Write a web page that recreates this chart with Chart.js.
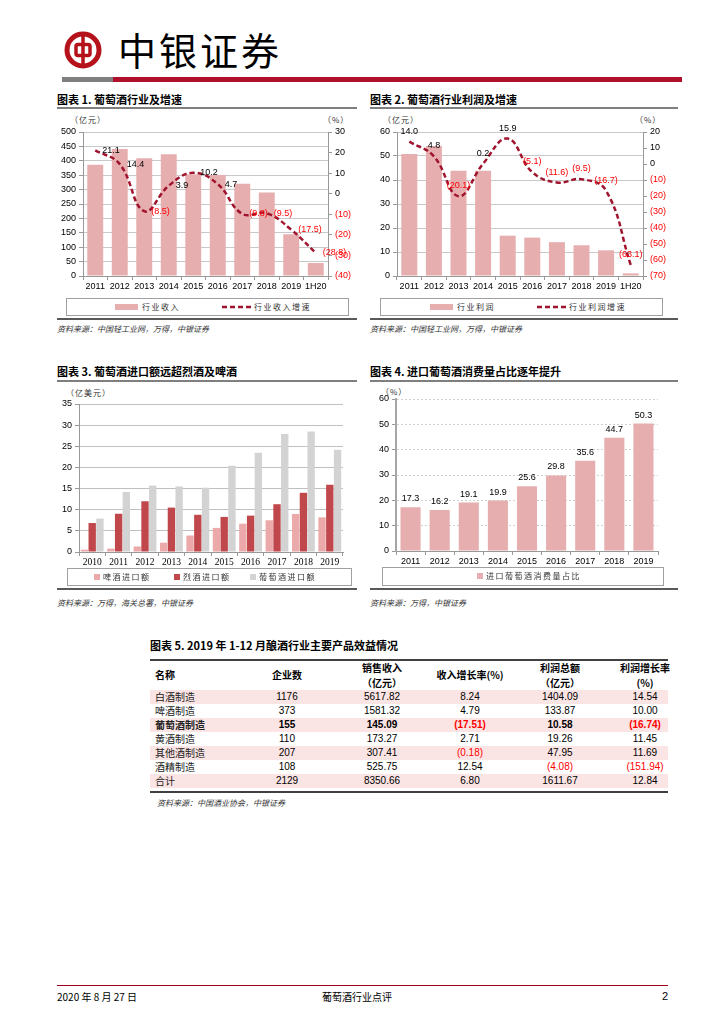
<!DOCTYPE html>
<html lang="zh-CN">
<head>
<meta charset="utf-8">
<script src="https://cdn.jsdelivr.net/npm/chart.js@4.4.0/dist/chart.umd.min.js"></script>
<style>
  body { margin: 0; width: 724px; height: 1024px; position: relative; overflow: hidden; background: #fff;
         font-family: "Liberation Sans", Arial, sans-serif; color: #000; }
  .abs { position: absolute; }
  .title { font-family: "Noto Sans CJK SC"; font-weight: 700; font-size: 11px; line-height: 16px; white-space: nowrap; }
  .rule { background: #7f7f7f; height: 2px; }
  .sep { background: #595959; height: 1.5px; }
  .src { font-family: "Noto Sans CJK SC"; font-style: italic; font-size: 8px; line-height: 12px; color: #333; white-space: nowrap; }
  .unit { font-family: "Noto Sans CJK SC"; font-size: 8px; line-height: 10px; color: #333; letter-spacing: 1px; white-space: nowrap; }
  .lgbox { border: 1px solid #a0a0a0; box-sizing: border-box; }
  .lgtxt { font-family: "Noto Sans CJK SC"; font-size: 8px; line-height: 10px; color: #333; letter-spacing: 1.5px; white-space: nowrap; }
  .cell { font-size: 10px; line-height: 14px; white-space: nowrap; }
  .cn { font-family: "Noto Sans CJK SC"; }
  .hd { font-family: "Noto Sans CJK SC"; font-weight: 700; font-size: 10px; line-height: 14px; white-space: nowrap; }
  canvas { position: absolute; }
</style>
</head>
<body>

<!-- header -->
<svg class="abs" style="left:64px;top:31px" width="38" height="38" viewBox="0 0 38 38">
  <circle cx="19" cy="19" r="16" fill="none" stroke="#B5121B" stroke-width="5"/>
  <rect x="12" y="13.5" width="14" height="11" rx="2" fill="none" stroke="#B5121B" stroke-width="3.5"/>
  <line x1="19" y1="3" x2="19" y2="35" stroke="#B5121B" stroke-width="3.5"/>
</svg>
<div class="abs cn" style="left:118px;top:26px;font-size:38px;line-height:46px;letter-spacing:3px;">中银证券</div>
<div class="abs" style="left:62px;top:77px;width:51px;height:5px;background:#7f7f7f"></div>
<div class="abs" style="left:113px;top:77px;width:569px;height:5px;background:#B0102B"></div>

<!-- chart titles -->
<div class="abs title" style="left:57px;top:91px">图表 1. 葡萄酒行业及增速</div>
<div class="abs rule" style="left:57px;top:107px;width:300px"></div>
<div class="abs title" style="left:370px;top:91px">图表 2. 葡萄酒行业利润及增速</div>
<div class="abs rule" style="left:370px;top:107px;width:308px"></div>
<div class="abs title" style="left:57px;top:363px">图表 3. 葡萄酒进口额远超烈酒及啤酒</div>
<div class="abs rule" style="left:57px;top:380px;width:300px"></div>
<div class="abs title" style="left:370px;top:363px">图表 4. 进口葡萄酒消费量占比逐年提升</div>
<div class="abs rule" style="left:370px;top:380px;width:308px"></div>

<!-- units -->
<div class="abs unit" style="left:70px;top:115px">（亿元）</div>
<div class="abs unit" style="left:323px;top:115px">（%）</div>
<div class="abs unit" style="left:383px;top:115px">（亿元）</div>
<div class="abs unit" style="left:635px;top:115px">（%）</div>
<div class="abs unit" style="left:66px;top:388px">（亿美元）</div>
<div class="abs unit" style="left:381px;top:387px">（%）</div>

<canvas id="c1" width="300" height="180" style="left:57px;top:112px"></canvas>
<canvas id="c2" width="310" height="180" style="left:368px;top:112px"></canvas>
<canvas id="c3" width="300" height="183" style="left:57px;top:385px"></canvas>
<canvas id="c4" width="305" height="182" style="left:368px;top:385px"></canvas>

<!-- legends chart 1 -->
<div class="abs lgbox" style="left:66px;top:298px;width:283px;height:18px"></div>
<div class="abs" style="left:115px;top:304px;width:23px;height:6px;background:#E6AEAE"></div>
<div class="abs lgtxt" style="left:142px;top:302px">行业收入</div>
<svg class="abs" style="left:222px;top:304px" width="30" height="6"><line x1="0" y1="3" x2="30" y2="3" stroke="#A0142D" stroke-width="2.5" stroke-dasharray="5,3"/></svg>
<div class="abs lgtxt" style="left:254px;top:302px">行业收入增速</div>

<!-- legends chart 2 -->
<div class="abs lgbox" style="left:380px;top:298px;width:283px;height:18px"></div>
<div class="abs" style="left:430px;top:304px;width:23px;height:6px;background:#E6AEAE"></div>
<div class="abs lgtxt" style="left:457px;top:302px">行业利润</div>
<svg class="abs" style="left:537px;top:304px" width="30" height="6"><line x1="0" y1="3" x2="30" y2="3" stroke="#A0142D" stroke-width="2.5" stroke-dasharray="5,3"/></svg>
<div class="abs lgtxt" style="left:569px;top:302px">行业利润增速</div>

<!-- legends chart 3 -->
<div class="abs lgbox" style="left:67px;top:568px;width:285px;height:18px"></div>
<div class="abs" style="left:94px;top:574px;width:6px;height:6px;background:#EBA9A9"></div>
<div class="abs lgtxt" style="left:103px;top:572px">啤酒进口额</div>
<div class="abs" style="left:174px;top:574px;width:6px;height:6px;background:#C0474B"></div>
<div class="abs lgtxt" style="left:183px;top:572px">烈酒进口额</div>
<div class="abs" style="left:250px;top:574px;width:6px;height:6px;background:#D3D3D3"></div>
<div class="abs lgtxt" style="left:259px;top:572px">葡萄酒进口额</div>

<!-- legend chart 4 -->
<div class="abs lgbox" style="left:382px;top:567px;width:282px;height:19px"></div>
<div class="abs" style="left:477px;top:573px;width:6px;height:6px;background:#E6AEAE"></div>
<div class="abs lgtxt" style="left:486px;top:571px">进口葡萄酒消费量占比</div>

<!-- separators and sources -->
<div class="abs sep" style="left:57px;top:318px;width:300px"></div>
<div class="abs sep" style="left:370px;top:318px;width:308px"></div>
<div class="abs src" style="left:57px;top:323px">资料来源：中国轻工业网，万得，中银证券</div>
<div class="abs src" style="left:370px;top:323px">资料来源：中国轻工业网，万得，中银证券</div>
<div class="abs sep" style="left:57px;top:588px;width:300px"></div>
<div class="abs sep" style="left:370px;top:588px;width:308px"></div>
<div class="abs src" style="left:57px;top:597px">资料来源：万得，海关总署，中银证券</div>
<div class="abs src" style="left:370px;top:597px">资料来源：万得，中银证券</div>

<!-- table -->
<div class="abs title" style="left:150px;top:637px">图表 5. 2019 年 1-12 月酿酒行业主要产品效益情况</div>
<div class="abs" style="left:150px;top:659px;width:518px;height:1.5px;background:#404040"></div>
<div id="table"></div>
<div class="abs" style="left:150px;top:791px;width:518px;height:1.5px;background:#404040"></div>
<div class="abs src" style="left:157px;top:797px">资料来源：中国酒业协会，中银证券</div>

<!-- footer -->
<div class="abs" style="left:57px;top:985px;width:611px;height:1px;background:#A0001E"></div>
<div class="abs cn" style="left:57px;top:990px;font-size:10px;line-height:14px">2020 年 8 月 27 日</div>
<div class="abs cn" style="left:257px;top:990px;width:200px;text-align:center;font-size:10px;line-height:14px">葡萄酒行业点评</div>
<div class="abs" style="left:640px;top:989px;width:28px;text-align:right;font-size:11px;line-height:14px">2</div>

<script>
// ---- data ----
const years1 = ['2011', '2012', '2013', '2014', '2015', '2016', '2017', '2018', '2019', '1H20'];
const revenue = [386, 441, 409, 423, 353, 351, 320, 290, 145, 45];
const revenueGrowth = [21.1, 14.4, -8.5, 3.9, 10.2, 4.7, -9.8, -9.5, -17.5, -28.8];
const profit = [50.8, 54.2, 43.9, 43.9, 16.8, 16.0, 14.1, 12.8, 10.7, 1.1];
const profitGrowth = [14.0, 4.8, -20.1, 0.2, 15.9, -5.1, -11.6, -9.5, -16.7, -63.1];

const years3 = ['2010', '2011', '2012', '2013', '2014', '2015', '2016', '2017', '2018', '2019'];
const beerImport = [0.55, 0.8, 1.3, 2.2, 3.9, 5.7, 6.7, 7.5, 9.0, 8.2];
const spiritsImport = [6.85, 9.05, 12.0, 10.5, 8.8, 8.3, 8.6, 11.3, 14.0, 15.9];
const wineImport = [7.9, 14.2, 15.7, 15.5, 15.2, 20.4, 23.5, 27.9, 28.5, 24.2];

const years4 = ['2011', '2012', '2013', '2014', '2015', '2016', '2017', '2018', '2019'];
const importShare = [17.3, 16.2, 19.1, 19.9, 25.6, 29.8, 35.6, 44.7, 50.3];

const tableNames = ['白酒制造', '啤酒制造', '葡萄酒制造', '黄酒制造', '其他酒制造', '酒精制造', '合计'];
const firmCount = [1176, 373, 155, 110, 207, 108, 2129];
const salesRevenue = [5617.82, 1581.32, 145.09, 173.27, 307.41, 525.75, 8350.66];
const salesGrowth = [8.24, 4.79, -17.51, 2.71, -0.18, 12.54, 6.80];
const totalProfit = [1404.09, 133.87, 10.58, 19.26, 47.95, -4.08, 1611.67];
const profitGrowthRate = [14.54, 10.00, -16.74, 11.45, 11.69, -151.94, 12.84];

const barPink = '#E6AEAE';
const lineRed = '#A0142D';
const tickFont = { family: 'Liberation Sans', size: 9 };

// labels on points / bars
const pointLabels = {
  id: 'pointLabels',
  afterDatasetsDraw(chart, args, opts) {
    if (!opts.sets) return;
    const ctx = chart.ctx;
    ctx.save();
    ctx.font = '9px "Liberation Sans"';
    opts.sets.forEach(s => {
      const meta = chart.getDatasetMeta(s.index);
      const data = chart.data.datasets[s.index].data;
      meta.data.forEach((el, i) => {
        const v = data[i];
        const text = v < 0 ? '(' + Math.abs(v).toFixed(1) + ')' : v.toFixed(1);
        ctx.fillStyle = v < 0 ? '#ff0000' : '#000';
        if (s.pos === 'right') {
          ctx.textAlign = 'left';
          ctx.textBaseline = 'middle';
          ctx.fillText(text, el.x + 7, el.y);
        } else {
          ctx.textAlign = 'center';
          ctx.textBaseline = 'bottom';
          ctx.fillText(text, el.x, el.y - s.gap);
        }
      });
    });
    ctx.restore();
  }
};
Chart.register(pointLabels);

const pctTick = v => v < 0 ? '(' + (-v) + ')' : v;
const pctColor = c => c.tick.value < 0 ? '#ff0000' : '#000';

function comboChart(id, bars, line, yMax, yStep, y1Min, y1Max, leftW, rightW, labelPos) {
  return new Chart(document.getElementById(id), {
    type: 'bar',
    data: {
      labels: years1,
      datasets: [
        { type: 'line', data: line, yAxisID: 'y1', borderColor: lineRed, borderWidth: 2.5,
          borderDash: [5, 3], pointRadius: 0, tension: 0.42, fill: false, order: 0 },
        { type: 'bar', data: bars, yAxisID: 'y', backgroundColor: barPink,
          categoryPercentage: 0.65, barPercentage: 1, order: 1 }
      ]
    },
    options: {
      responsive: false,
      animation: false,
      layout: { padding: { top: 20 } },
      plugins: {
        legend: { display: false },
        tooltip: { enabled: false },
        pointLabels: { sets: [{ index: 0, pos: labelPos, gap: 6 }] }
      },
      scales: {
        x: {
          grid: { drawOnChartArea: false, tickLength: 4, color: '#999', offset: true },
          border: { color: '#999' },
          ticks: { font: tickFont, color: '#000', padding: 1, maxRotation: 0, autoSkip: false },
          afterFit: s => { s.height = 16; }
        },
        y: {
          position: 'left', min: 0, max: yMax,
          ticks: { stepSize: yStep, font: tickFont, color: '#000', padding: 3 },
          grid: { color: '#c8c8c8', tickLength: 4, tickColor: '#999' },
          border: { color: '#999' },
          afterFit: s => { s.width = leftW; }
        },
        y1: {
          position: 'right', min: y1Min, max: y1Max,
          ticks: { stepSize: 10, font: tickFont, color: pctColor, callback: pctTick, padding: 3 },
          grid: { drawOnChartArea: false, tickLength: 4, color: '#999' },
          border: { color: '#999' },
          afterFit: s => { s.width = rightW; }
        }
      }
    }
  });
}

comboChart('c1', revenue, revenueGrowth, 500, 50, -40, 30, 26, 29, 'right');
comboChart('c2', profit, profitGrowth, 60, 10, -70, 20, 29, 35, 'top');

// chart 3
new Chart(document.getElementById('c3'), {
  type: 'bar',
  data: {
    labels: years3,
    datasets: [
      { label: '啤酒进口额', data: beerImport, backgroundColor: '#EBA9A9', categoryPercentage: 0.88, barPercentage: 0.95 },
      { label: '烈酒进口额', data: spiritsImport, backgroundColor: '#C0474B', categoryPercentage: 0.88, barPercentage: 0.95 },
      { label: '葡萄酒进口额', data: wineImport, backgroundColor: '#D3D3D3', categoryPercentage: 0.88, barPercentage: 0.95 }
    ]
  },
  options: {
    responsive: false,
    animation: false,
    layout: { padding: { top: 19, right: 14 } },
    plugins: { legend: { display: false }, tooltip: { enabled: false } },
    scales: {
      x: {
        grid: { drawOnChartArea: false, tickLength: 4, color: '#999', offset: true },
        border: { color: '#999' },
        ticks: { font: { family: 'Liberation Serif', size: 9.5 }, color: '#000', padding: 1, maxRotation: 0, autoSkip: false },
        afterFit: s => { s.height = 16; }
      },
      y: {
        min: 0, max: 35,
        ticks: { stepSize: 5, font: tickFont, color: '#000', padding: 3 },
        grid: { color: '#c0c0c0', tickLength: 4, tickColor: '#999' },
        border: { color: '#999' },
        afterFit: s => { s.width = 22; }
      }
    }
  }
});

// chart 4
new Chart(document.getElementById('c4'), {
  type: 'bar',
  data: {
    labels: years4,
    datasets: [
      { label: '进口葡萄酒消费量占比', data: importShare, backgroundColor: barPink, categoryPercentage: 0.69, barPercentage: 1 }
    ]
  },
  options: {
    responsive: false,
    animation: false,
    layout: { padding: { top: 14, right: 15 } },
    plugins: {
      legend: { display: false },
      tooltip: { enabled: false },
      pointLabels: { sets: [{ index: 0, pos: 'top', gap: 4 }] }
    },
    scales: {
      x: {
        grid: { drawOnChartArea: false, tickLength: 4, color: '#999', offset: true },
        border: { color: '#999' },
        ticks: { font: tickFont, color: '#000', padding: 1, maxRotation: 0, autoSkip: false },
        afterFit: s => { s.height = 16; }
      },
      y: {
        min: 0, max: 60,
        ticks: { stepSize: 10, font: tickFont, color: '#000', padding: 3 },
        grid: { color: '#d0d0d0', tickLength: 4, tickColor: '#999' },
        border: { color: '#a6a6a6', width: 2, dash: [2, 2] },
        afterFit: s => { s.width = 28; }
      }
    }
  }
});

// table
const table = document.getElementById('table');
function addCell(text, cls, x, y, align, extra) {
  const d = document.createElement('div');
  d.className = 'abs ' + cls;
  d.textContent = text;
  d.style.top = (y - 7) + 'px';
  if (align === 'left') {
    d.style.left = x + 'px';
  } else {
    d.style.left = (x - 60) + 'px';
    d.style.width = '120px';
    d.style.textAlign = 'center';
  }
  if (extra) Object.assign(d.style, extra);
  table.appendChild(d);
}
const colX = [155, 287, 382, 470, 560, 645];
addCell('名称', 'hd', colX[0], 675, 'left');
addCell('企业数', 'hd', colX[1], 675);
addCell('销售收入', 'hd', colX[2], 668);
addCell('（亿元）', 'hd', colX[2], 683);
addCell('收入增长率(%)', 'hd', colX[3], 675);
addCell('利润总额', 'hd', colX[4], 668);
addCell('（亿元）', 'hd', colX[4], 683);
addCell('利润增长率', 'hd', colX[5], 668);
addCell('(%)', 'hd', colX[5], 683);

const fmt = v => v < 0 ? '(' + Math.abs(v).toFixed(2) + ')' : v.toFixed(2);
tableNames.forEach((name, i) => {
  const y = 697 + i * 14;
  if (i % 2 === 0) {
    const bg = document.createElement('div');
    bg.className = 'abs';
    Object.assign(bg.style, { left: '150px', top: (y - 7) + 'px', width: '518px', height: '14px', background: '#FBE4E4' });
    table.appendChild(bg);
  }
  const bold = i === 2 ? { fontWeight: '700' } : {};
  addCell(name, 'cell cn', colX[0], y, 'left', Object.assign({ color: '#222' }, bold));
  addCell(String(firmCount[i]), 'cell', colX[1], y, 'center', bold);
  addCell(salesRevenue[i].toFixed(2), 'cell', colX[2], y, 'center', bold);
  [salesGrowth[i], totalProfit[i], profitGrowthRate[i]].forEach((v, k) => {
    addCell(fmt(v), 'cell', colX[3 + k], y, 'center', Object.assign({ color: v < 0 ? '#ff0000' : '#000' }, bold));
  });
});
</script>
</body>
</html>
